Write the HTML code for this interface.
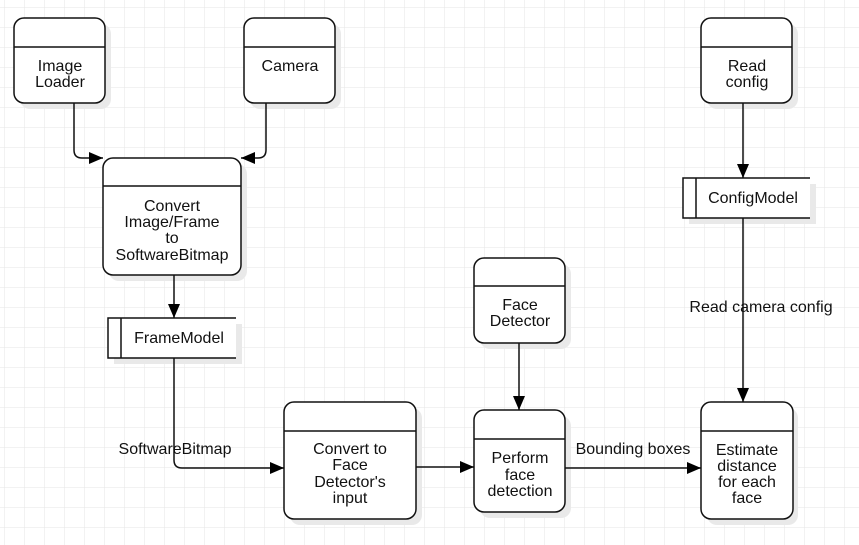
<!DOCTYPE html>
<html><head><meta charset="utf-8"><style>
html,body{margin:0;padding:0;background:#fff}
svg{display:block}
text{font-family:"Liberation Sans",sans-serif;font-size:16px;fill:#111}
</style></head><body>
<svg width="859" height="545" viewBox="0 0 859 545" xmlns="http://www.w3.org/2000/svg">
<defs>
<pattern id="g" x="4" y="7" width="20" height="20" patternUnits="userSpaceOnUse">
<path d="M0 0H20M0 0V20" stroke="#e6e6e6" stroke-width="1" fill="none"/>
</pattern>
<marker id="a" viewBox="0 0 14 12" refX="14" refY="6" markerWidth="14" markerHeight="12" markerUnits="userSpaceOnUse" orient="auto">
<path d="M0 0L14 6L0 12z" fill="#000"/>
</marker>
</defs>
<rect width="859" height="545" fill="url(#g)"/>
<g fill="#e9e9e9">
<rect x="20" y="24" width="91" height="85" rx="10"/>
<rect x="250" y="24" width="91" height="85" rx="10"/>
<rect x="109" y="164" width="138" height="117" rx="10"/>
<rect x="114" y="324" width="128" height="40"/>
<rect x="290" y="408" width="132" height="117" rx="10"/>
<rect x="480" y="264" width="91" height="85" rx="10"/>
<rect x="480" y="416" width="91" height="102" rx="10"/>
<rect x="707" y="24" width="91" height="85" rx="10"/>
<rect x="689" y="184" width="127" height="40"/>
<rect x="707" y="408" width="91" height="117" rx="10"/>
</g>
<g fill="#fff" stroke="#111" stroke-width="1.5">
<rect x="14" y="18" width="91" height="85" rx="10"/><path d="M14 47H105"/>
<rect x="244" y="18" width="91" height="85" rx="10"/><path d="M244 47H335"/>
<rect x="103" y="158" width="138" height="117" rx="10"/><path d="M103 186H241"/>
<rect x="284" y="402" width="132" height="117" rx="10"/><path d="M284 431H416"/>
<rect x="474" y="258" width="91" height="85" rx="10"/><path d="M474 286H565"/>
<rect x="474" y="410" width="91" height="102" rx="10"/><path d="M474 439H565"/>
<rect x="701" y="18" width="91" height="85" rx="10"/><path d="M701 47H792"/>
<rect x="701" y="402" width="92" height="117" rx="10"/><path d="M701 431H793"/>
</g>
<rect x="108" y="318" width="128" height="40" fill="#fff"/>
<path d="M236 318H108V358H236M121 318V358" fill="none" stroke="#111" stroke-width="1.5"/>
<rect x="683" y="178" width="127" height="40" fill="#fff"/>
<path d="M810 178H683V218H810M696 178V218" fill="none" stroke="#111" stroke-width="1.5"/>
<g fill="none" stroke="#111" stroke-width="1.5">
<path d="M74 103V150Q74 158 82 158H103" marker-end="url(#a)"/>
<path d="M266 103V150Q266 158 258 158H241" marker-end="url(#a)"/>
<path d="M174 275V318" marker-end="url(#a)"/>
<path d="M174 358V460Q174 468 182 468H284" marker-end="url(#a)"/>
<path d="M416 467H474" marker-end="url(#a)"/>
<path d="M519 343V410" marker-end="url(#a)"/>
<path d="M565 468H701" marker-end="url(#a)"/>
<path d="M743 103V178" marker-end="url(#a)"/>
<path d="M743 218V402" marker-end="url(#a)"/>
</g>
<g text-anchor="middle">
<text x="60" y="71">Image</text><text x="60" y="87">Loader</text>
<text x="290" y="71">Camera</text>
<text x="172" y="211">Convert</text><text x="172" y="227">Image/Frame</text><text x="172" y="243">to</text><text x="172" y="260">SoftwareBitmap</text>
<text x="179" y="343">FrameModel</text>
<text x="175" y="454">SoftwareBitmap</text>
<text x="350" y="454">Convert to</text><text x="350" y="470">Face</text><text x="350" y="487">Detector's</text><text x="350" y="503">input</text>
<text x="520" y="310">Face</text><text x="520" y="326">Detector</text>
<text x="520" y="463">Perform</text><text x="520" y="480">face</text><text x="520" y="496">detection</text>
<text x="633" y="454">Bounding boxes</text>
<text x="747" y="71">Read</text><text x="747" y="87">config</text>
<text x="753" y="203">ConfigModel</text>
<text x="761" y="312">Read camera config</text>
<text x="747" y="455">Estimate</text><text x="747" y="471">distance</text><text x="747" y="487">for each</text><text x="747" y="503">face</text>
</g>
</svg>
</body></html>
